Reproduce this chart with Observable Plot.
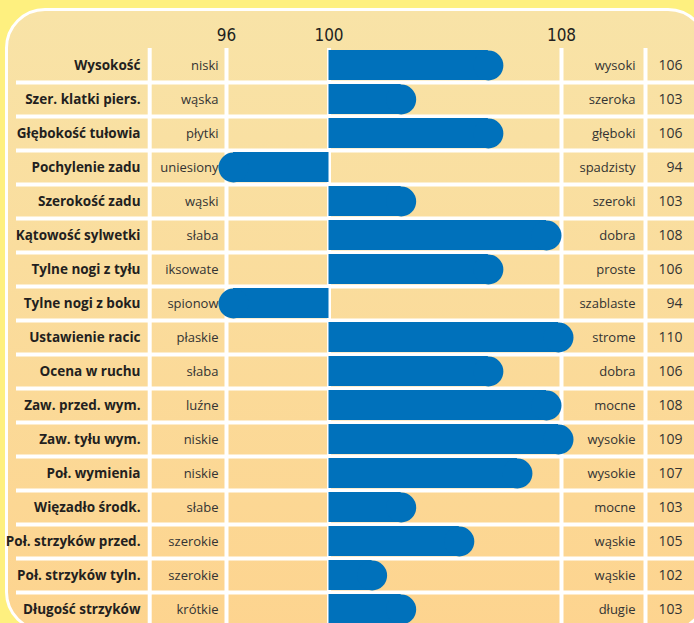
<!DOCTYPE html>
<html><head><meta charset="utf-8">
<script src="https://cdn.jsdelivr.net/npm/d3@7"></script>
<script src="https://cdn.jsdelivr.net/npm/@observablehq/plot@0.6"></script>
<style>
html,body{margin:0;padding:0;width:694px;height:623px;overflow:hidden;background:#FEF07F;}
#panel{position:absolute;left:5px;top:8px;width:703px;height:624px;border:3px solid #fff;border-radius:40px;background:linear-gradient(#F8E3A7,#FDD48F);box-sizing:border-box;}
#chart{position:absolute;left:0;top:0;}
</style></head><body><div id="panel"></div><div id="chart"></div>
<script>
const categories = ["Wysokość","Szer. klatki piers.","Głębokość tułowia","Pochylenie zadu","Szerokość zadu","Kątowość sylwetki","Tylne nogi z tyłu","Tylne nogi z boku","Ustawienie racic","Ocena w ruchu","Zaw. przed. wym.","Zaw. tyłu wym.","Poł. wymienia","Więzadło środk.","Poł. strzyków przed.","Poł. strzyków tyln.","Długość strzyków"];
const lowLabels = ["niski","wąska","płytki","uniesiony","wąski","słaba","iksowate","spionow","płaskie","słaba","luźne","niskie","niskie","słabe","szerokie","szerokie","krótkie"];
const highLabels = ["wysoki","szeroka","głęboki","spadzisty","szeroki","dobra","proste","szablaste","strome","dobra","mocne","wysokie","wysokie","mocne","wąskie","wąskie","długie"];
const values = [106,103,106,94,103,108,106,94,110,106,108,109,107,103,105,102,103];
const tickValues = [96,100,108];
const baseline = 100;

const blue = "#0071BB";
const textDark = "#231F20";
const R = 15;
const yRange = [46.3, 627.5];
const step = (yRange[1]-yRange[0])/categories.length;

const rows = categories.map((name,i)=>({name, low: lowLabels[i], high: highLabels[i], value: values[i]}));
const pos = rows.filter(d=>d.value>=baseline), neg = rows.filter(d=>d.value<baseline);

const chart = Plot.plot({
  width: 694, height: 623, margin: 0,
  style: {background: "transparent", fontFamily: "'Open Sans', sans-serif", overflow: "visible"},
  x: {type: "linear", domain: [94,96,100,108,109], range: [218,226,328.5,561,573], clamp: true, axis: null},
  y: {type: "band", domain: categories, range: yRange, paddingInner: 0.117, paddingOuter: 0.0585, axis: null},
  marks: [
    Plot.ruleY(categories.slice(1), {y: d=>d, dy: -step/2, stroke: "#fff", strokeWidth: 4, insetLeft: 16}),
    Plot.ruleX(tickValues, {x: d=>d, stroke: "#fff", strokeWidth: 4, insetTop: 48}),
    Plot.text(tickValues, {x: d=>d, text: d=>String(d), frameAnchor: "top", dy: 28, fontSize: 17, fill: textDark, fontFamily: "'Liberation Sans Narrow','DejaVu Sans Condensed',sans-serif"}),
    Plot.text(rows, {y: "name", text: "name", frameAnchor: "left", dx: 140, textAnchor: "end", fontWeight: "bold", fontSize: 13.5, fill: textDark}),
    Plot.text(rows, {y: "name", text: "low", frameAnchor: "left", dx: 218, textAnchor: "end", fontSize: 13, fill: "#333"}),
    Plot.text(rows, {y: "name", text: "high", frameAnchor: "left", dx: 635, textAnchor: "end", fontSize: 13, fill: "#333"}),
    Plot.text(rows, {y: "name", text: d=>String(d.value), frameAnchor: "left", dx: 682, textAnchor: "end", fontSize: 14, fill: "#333"}),
    Plot.barX(pos, {x1: ()=>baseline, x2: "value", y: "name", fill: blue, insetRight: R}),
    Plot.dot(pos, {x: "value", y: "name", r: R, fill: blue, stroke: "none", dx: -R}),
    Plot.barX(neg, {x1: ()=>baseline, x2: "value", y: "name", fill: blue, insetLeft: R}),
    Plot.dot(neg, {x: "value", y: "name", r: R, fill: blue, stroke: "none", dx: R})
  ]
});

// column dividers (layout only)
const svg = d3.select(chart);
const grid = svg.insert("g", ":first-child").attr("stroke", "#fff").attr("stroke-width", 4);
[149.7, 645.5].forEach(px => grid.append("line").attr("x1", px).attr("x2", px).attr("y1", 48).attr("y2", 623));
document.getElementById("chart").appendChild(chart);
</script></body></html>
